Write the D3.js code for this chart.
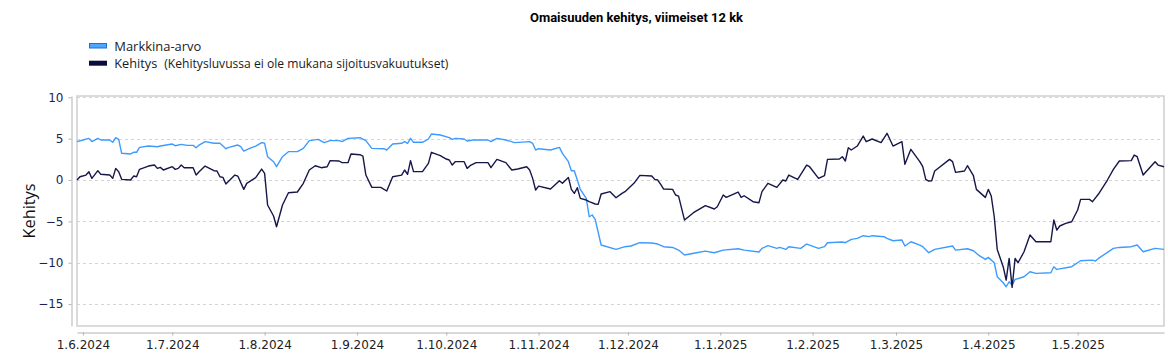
<!DOCTYPE html>
<html><head><meta charset="utf-8">
<script src="https://cdn.jsdelivr.net/npm/d3@7"></script>
<style>
html,body{margin:0;padding:0;background:#fff;}
svg{display:block;}
</style></head>
<body>
<svg id="chart" width="1168" height="361"></svg>
<script>
const title = "Omaisuuden kehitys, viimeiset 12 kk";
const seriesNames = ["Markkina-arvo", "Kehitys"];
const legendNote = "(Kehitysluvussa ei ole mukana sijoitusvakuutukset)";
const yAxisTitle = "Kehitys";
const yTickValues = [10, 5, 0, -5, -10, -15];
const xTickDates = ["2024-06-01","2024-07-01","2024-08-01","2024-09-01","2024-10-01","2024-11-01","2024-12-01","2025-01-01","2025-02-01","2025-03-01","2025-04-01","2025-05-01"];
const xTickLabels = ["1.6.2024","1.7.2024","1.8.2024","1.9.2024","1.10.2024","1.11.2024","1.12.2024","1.1.2025","1.2.2025","1.3.2025","1.4.2025","1.5.2025"];
const xDomain = ["2024-05-30", "2025-05-30"];

const marketDates = ["2024-05-30","2024-06-01","2024-06-03","2024-06-04","2024-06-06","2024-06-07","2024-06-10","2024-06-11","2024-06-12","2024-06-13","2024-06-14","2024-06-17","2024-06-18","2024-06-19","2024-06-20","2024-06-23","2024-06-26","2024-06-27","2024-07-01","2024-07-02","2024-07-04","2024-07-06","2024-07-08","2024-07-09","2024-07-10","2024-07-12","2024-07-15","2024-07-17","2024-07-19","2024-07-20","2024-07-23","2024-07-24","2024-07-25","2024-07-27","2024-07-29","2024-07-31","2024-08-01","2024-08-02","2024-08-04","2024-08-05","2024-08-07","2024-08-09","2024-08-12","2024-08-14","2024-08-16","2024-08-19","2024-08-21","2024-08-23","2024-08-26","2024-08-27","2024-08-29","2024-09-02","2024-09-04","2024-09-06","2024-09-10","2024-09-11","2024-09-13","2024-09-16","2024-09-17","2024-09-18","2024-09-19","2024-09-20","2024-09-23","2024-09-25","2024-09-26","2024-09-29","2024-10-02","2024-10-03","2024-10-04","2024-10-07","2024-10-08","2024-10-10","2024-10-15","2024-10-16","2024-10-18","2024-10-21","2024-10-24","2024-10-29","2024-10-30","2024-10-31","2024-11-01","2024-11-05","2024-11-08","2024-11-09","2024-11-11","2024-11-12","2024-11-13","2024-11-15","2024-11-17","2024-11-18","2024-11-19","2024-11-20","2024-11-22","2024-11-27","2024-11-30","2024-12-02","2024-12-05","2024-12-09","2024-12-11","2024-12-13","2024-12-16","2024-12-18","2024-12-20","2024-12-24","2024-12-27","2024-12-30","2025-01-02","2025-01-07","2025-01-09","2025-01-14","2025-01-15","2025-01-17","2025-01-20","2025-01-21","2025-01-23","2025-01-24","2025-01-28","2025-01-30","2025-02-03","2025-02-05","2025-02-06","2025-02-11","2025-02-12","2025-02-14","2025-02-16","2025-02-18","2025-02-20","2025-02-21","2025-02-25","2025-02-26","2025-02-28","2025-03-03","2025-03-04","2025-03-06","2025-03-09","2025-03-10","2025-03-12","2025-03-14","2025-03-20","2025-03-21","2025-03-25","2025-03-27","2025-03-29","2025-03-31","2025-04-01","2025-04-03","2025-04-04","2025-04-06","2025-04-07","2025-04-08","2025-04-09","2025-04-10","2025-04-13","2025-04-15","2025-04-17","2025-04-22","2025-04-23","2025-04-24","2025-04-29","2025-05-02","2025-05-06","2025-05-07","2025-05-08","2025-05-13","2025-05-15","2025-05-19","2025-05-21","2025-05-23","2025-05-27","2025-05-30"];
const marketValues = [4.64,4.84,5.04,4.64,5.04,4.84,4.84,4.56,5.12,4.92,3.23,3.15,3.35,3.35,3.95,4.11,4.03,4.11,4.35,4.15,4.31,4.19,4.19,3.91,4.23,4.64,4.44,4.44,3.79,3.95,4.23,4.03,3.50,3.83,4.11,4.52,4.44,2.82,2.22,1.61,2.82,3.43,3.43,3.83,4.76,4.92,4.52,4.76,4.76,4.64,5.04,5.12,4.76,3.83,3.79,3.63,4.35,4.44,4.64,4.44,5.04,4.56,4.56,4.96,5.56,5.44,5.12,4.92,5.04,4.96,4.72,4.84,4.84,4.64,5.04,4.84,4.52,4.64,4.44,3.63,3.79,3.63,3.95,3.23,2.22,1.13,1.13,-1.13,-2.22,-4.44,-4.23,-4.76,-7.86,-8.39,-8.06,-7.98,-7.58,-7.62,-7.74,-8.06,-8.15,-8.47,-9.07,-8.79,-8.59,-8.79,-8.47,-8.31,-8.47,-8.71,-8.27,-7.94,-8.27,-8.15,-8.39,-8.06,-8.27,-7.74,-8.27,-8.06,-7.58,-7.50,-7.58,-7.18,-7.06,-6.73,-6.85,-6.73,-6.85,-7.06,-7.34,-7.26,-7.98,-7.46,-7.86,-8.06,-8.79,-8.39,-7.98,-8.47,-8.31,-8.55,-9.15,-9.60,-9.35,-10.00,-11.69,-12.42,-12.90,-12.30,-12.70,-12.02,-11.69,-11.09,-11.29,-11.21,-10.48,-10.81,-10.48,-9.76,-9.68,-9.80,-9.48,-8.27,-8.15,-8.06,-7.86,-8.67,-8.27,-8.39];

const growthDates = ["2024-05-30","2024-05-31","2024-06-02","2024-06-03","2024-06-04","2024-06-06","2024-06-07","2024-06-10","2024-06-11","2024-06-12","2024-06-13","2024-06-14","2024-06-17","2024-06-18","2024-06-19","2024-06-20","2024-06-23","2024-06-25","2024-06-26","2024-06-27","2024-06-28","2024-07-01","2024-07-02","2024-07-03","2024-07-04","2024-07-05","2024-07-08","2024-07-09","2024-07-10","2024-07-12","2024-07-15","2024-07-16","2024-07-17","2024-07-18","2024-07-19","2024-07-22","2024-07-23","2024-07-25","2024-07-26","2024-07-29","2024-07-31","2024-08-01","2024-08-02","2024-08-04","2024-08-05","2024-08-07","2024-08-09","2024-08-12","2024-08-14","2024-08-16","2024-08-18","2024-08-20","2024-08-22","2024-08-23","2024-08-26","2024-08-27","2024-08-29","2024-08-30","2024-09-02","2024-09-03","2024-09-04","2024-09-06","2024-09-09","2024-09-11","2024-09-13","2024-09-16","2024-09-17","2024-09-18","2024-09-19","2024-09-20","2024-09-23","2024-09-25","2024-09-26","2024-09-29","2024-10-01","2024-10-02","2024-10-03","2024-10-04","2024-10-07","2024-10-08","2024-10-09","2024-10-11","2024-10-15","2024-10-16","2024-10-18","2024-10-21","2024-10-23","2024-10-25","2024-10-28","2024-10-29","2024-10-30","2024-10-31","2024-11-01","2024-11-05","2024-11-08","2024-11-09","2024-11-11","2024-11-12","2024-11-13","2024-11-14","2024-11-15","2024-11-17","2024-11-18","2024-11-20","2024-11-21","2024-11-22","2024-11-25","2024-11-27","2024-11-29","2024-11-30","2024-12-03","2024-12-05","2024-12-09","2024-12-10","2024-12-11","2024-12-12","2024-12-13","2024-12-16","2024-12-17","2024-12-18","2024-12-20","2024-12-23","2024-12-27","2024-12-30","2024-12-31","2025-01-02","2025-01-03","2025-01-07","2025-01-08","2025-01-09","2025-01-12","2025-01-14","2025-01-15","2025-01-17","2025-01-20","2025-01-22","2025-01-23","2025-01-24","2025-01-27","2025-01-30","2025-01-31","2025-02-03","2025-02-05","2025-02-06","2025-02-10","2025-02-11","2025-02-12","2025-02-13","2025-02-14","2025-02-16","2025-02-18","2025-02-19","2025-02-21","2025-02-24","2025-02-26","2025-02-28","2025-03-03","2025-03-04","2025-03-06","2025-03-09","2025-03-10","2025-03-11","2025-03-12","2025-03-13","2025-03-14","2025-03-19","2025-03-20","2025-03-21","2025-03-24","2025-03-25","2025-03-27","2025-03-28","2025-03-31","2025-04-01","2025-04-02","2025-04-03","2025-04-04","2025-04-06","2025-04-07","2025-04-08","2025-04-09","2025-04-10","2025-04-11","2025-04-13","2025-04-15","2025-04-17","2025-04-22","2025-04-23","2025-04-24","2025-04-25","2025-04-27","2025-04-29","2025-05-01","2025-05-02","2025-05-05","2025-05-06","2025-05-08","2025-05-11","2025-05-13","2025-05-15","2025-05-19","2025-05-20","2025-05-21","2025-05-23","2025-05-27","2025-05-28","2025-05-30"];
const growthValues = [0,0.40,0.60,1.01,0.20,1.13,0.69,0.60,0.20,1.41,1.01,0.08,0,0.48,0.40,1.29,1.69,1.81,1.41,1.53,1.21,1.61,1.29,1.41,1.81,1.49,1.49,0.60,1.01,1.69,1.13,1.09,0.40,0.32,-0.48,0.60,0.48,-1.13,-0.40,0.28,1.33,0.81,-3.02,-4.35,-5.65,-3.02,-1.53,-1.45,-0.40,1.21,1.73,1.49,1.61,2.34,2.30,2.10,2.10,3.15,3.06,2.90,0.60,-0.89,-0.89,-1.33,0.40,0.60,1.21,0.69,2.34,1.01,1.01,2.02,3.35,2.94,2.54,2.42,1.81,2.22,2.22,1.41,1.73,2.10,2.10,1.49,2.50,2.10,1.21,1.33,1.61,1.21,0.20,-1.21,-0.73,-1.09,-0.08,-0.40,0.32,-1.13,-1.61,-0.93,-2.22,-2.42,-2.62,-2.90,-2.94,-1.69,-1.41,-2.14,-1.61,-1.41,-0.40,0.56,0.48,0.08,0,-0.52,-1.09,-1.13,-1.81,-1.94,-4.84,-3.95,-3.10,-3.50,-3.23,-1.81,-2.10,-1.45,-2.10,-1.90,-2.62,-2.74,-1.41,-0.40,-0.89,0,-0.12,0.60,0.08,1.81,1.61,0.20,0.52,2.50,2.54,2.82,2.30,3.91,3.63,4.11,5.32,4.64,4.96,4.52,5.65,4.11,4.64,1.90,3.71,2.22,1.61,0.08,-0.12,-0.08,1.09,2.50,2.22,0.93,1.09,1.73,0.52,-1.13,-2.10,-1.13,-1.94,-4.44,-8.39,-10.48,-12.10,-9.48,-12.98,-9.48,-10.00,-8.67,-6.65,-7.46,-7.46,-4.84,-6.05,-5.56,-5.24,-5.04,-3.63,-2.34,-2.34,-2.62,-1.69,0,1.29,2.30,2.34,3.02,2.82,0.60,2.22,1.81,1.61];

const parse = d3.timeParse("%Y-%m-%d");
const svg = d3.select("#chart");

const plot = {left: 77, right: 1164, top: 96, bottom: 326};
const x = d3.scaleTime().domain(xDomain.map(parse)).range([plot.left, plot.right]);
const y = d3.scaleLinear().domain([-17.65, 10.16]).range([plot.bottom, plot.top]);

// title
svg.append("text").attr("x", 636.5).attr("y", 22).attr("text-anchor", "middle")
  .attr("font-family", "Roboto, 'Liberation Sans', sans-serif").attr("font-weight", "bold")
  .attr("font-size", 13).attr("fill", "#000").attr("textLength", 213).attr("lengthAdjust", "spacingAndGlyphs")
  .text(title);

// legend
const lg = svg.append("g");
lg.append("rect").attr("x", 89.5).attr("y", 43.5).attr("width", 17).attr("height", 4.5)
  .attr("fill", "#4da6ff").attr("stroke", "#1f6fd6").attr("stroke-width", 1);
lg.append("rect").attr("x", 89).attr("y", 60.7).attr("width", 18).attr("height", 5)
  .attr("fill", "#0b0b3d");
const lgFont = "'Open Sans', 'Noto Sans', sans-serif";
lg.append("text").attr("x", 114.3).attr("y", 50.5).attr("font-family", lgFont).attr("font-size", 12)
  .attr("fill", "#1a1a1a").attr("textLength", 87).attr("lengthAdjust", "spacingAndGlyphs").text(seriesNames[0]);
lg.append("text").attr("x", 114.3).attr("y", 68.2).attr("font-family", lgFont).attr("font-size", 12)
  .attr("fill", "#1a1a1a").attr("textLength", 43).attr("lengthAdjust", "spacingAndGlyphs").text(seriesNames[1]);
lg.append("text").attr("x", 164.3).attr("y", 68.2).attr("font-family", lgFont).attr("font-size", 12)
  .attr("fill", "#1a1a1a").attr("textLength", 284).attr("lengthAdjust", "spacingAndGlyphs").text(legendNote);

// grid
svg.append("g").selectAll("line").data(yTickValues).join("line")
  .attr("x1", plot.left).attr("x2", plot.right)
  .attr("y1", d => Math.round(y(d)) + 0.5).attr("y2", d => Math.round(y(d)) + 0.5)
  .attr("stroke", "#d4d4d4").attr("stroke-width", 1).attr("stroke-dasharray", "3,3");

// frame
svg.append("rect").attr("x", plot.left).attr("y", plot.top)
  .attr("width", plot.right - plot.left).attr("height", plot.bottom - plot.top)
  .attr("fill", "none").attr("stroke", "#cfcfcf").attr("stroke-width", 1.5);

// y axis
const yAxis = d3.axisLeft(y).tickValues(yTickValues).tickSize(3).tickSizeOuter(0).tickPadding(5);
const yg = svg.append("g").attr("transform", "translate(71.5,0)").call(yAxis);
yg.select(".domain").attr("stroke", "#b3b3b3");
yg.selectAll(".tick line").attr("stroke", "#b3b3b3");
yg.selectAll(".tick text").attr("font-family", "'DejaVu Sans', sans-serif").attr("font-size", 12).attr("fill", "#1e1e52");

// x axis
const xAxis = d3.axisBottom(x).tickValues(xTickDates.map(parse))
  .tickFormat((d, i) => xTickLabels[i]).tickSize(3).tickSizeOuter(0).tickPadding(5);
const xg = svg.append("g").attr("transform", "translate(0,332.5)").call(xAxis);
xg.select(".domain").attr("stroke", "#b3b3b3");
xg.selectAll(".tick line").attr("stroke", "#b3b3b3");
xg.selectAll(".tick text").attr("font-family", "'DejaVu Sans', sans-serif").attr("font-size", 12).attr("fill", "#222");

// y axis title
svg.append("text").attr("transform", "translate(34.5,211) rotate(-90)").attr("text-anchor", "middle")
  .attr("font-family", lgFont).attr("font-size", 16).attr("fill", "#111")
  .attr("textLength", 55).attr("lengthAdjust", "spacingAndGlyphs").text(yAxisTitle);

// lines
const line = d3.line().x(d => x(d.date)).y(d => y(d.value));
const market = marketDates.map((d, i) => ({date: parse(d), value: marketValues[i]}));
const growth = growthDates.map((d, i) => ({date: parse(d), value: growthValues[i]}));
svg.append("path").datum(market).attr("d", line).attr("fill", "none")
  .attr("stroke", "#3d9bff").attr("stroke-width", 1.4).attr("stroke-linejoin", "round");
svg.append("path").datum(growth).attr("d", line).attr("fill", "none")
  .attr("stroke", "#16164a").attr("stroke-width", 1.4).attr("stroke-linejoin", "round");
</script>
</body></html>
